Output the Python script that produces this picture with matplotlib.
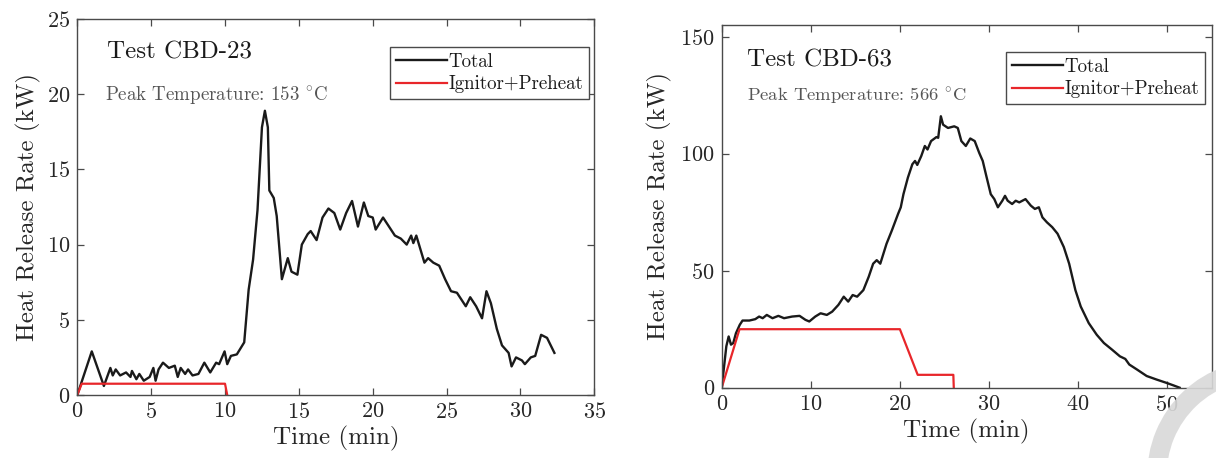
import matplotlib
matplotlib.use("Agg")
import matplotlib.pyplot as plt
from matplotlib.patches import Arc

plt.rcParams['font.family'] = ['cmr10', 'DejaVu Serif']
plt.rcParams['mathtext.fontset'] = 'cm'
plt.rcParams['axes.formatter.use_mathtext'] = True

# ---- Test CBD-23 ----
t23 = [0, 0.98, 1.8, 2.24, 2.4, 2.6, 2.9, 3.3, 3.6, 3.7, 4.0, 4.2, 4.5, 4.9, 5.15, 5.3,
       5.5, 5.8, 6.2, 6.6, 6.8, 7.0, 7.3, 7.5, 7.8, 8.2, 8.6, 9.0, 9.4, 9.6, 9.97, 10.15,
       10.4, 10.8, 11.3, 11.6, 11.9, 12.2, 12.5, 12.7, 12.9, 13.0, 13.3, 13.5, 13.85,
       14.25, 14.5, 14.9, 15.2, 15.6, 15.8, 16.2, 16.6, 17.0, 17.4, 17.8, 18.2, 18.6,
       19.0, 19.4, 19.7, 20.0, 20.2, 20.7, 21.1, 21.5, 21.9, 22.3, 22.6, 22.75, 22.95,
       23.5, 23.75, 24.1, 24.5, 24.9, 25.3, 25.7, 26.3, 26.6, 27.0, 27.4, 27.7, 28.0,
       28.4, 28.75, 29.2, 29.4, 29.7, 30.1, 30.3, 30.7, 31.0, 31.4, 31.8, 32.3]
hrr23 = [0, 2.9, 0.6, 1.8, 1.3, 1.7, 1.3, 1.5, 1.2, 1.6, 1.05, 1.4, 0.95, 1.2, 1.8, 0.95,
         1.7, 2.15, 1.8, 1.95, 1.2, 1.8, 1.4, 1.7, 1.3, 1.4, 2.15, 1.5, 2.15, 2.05, 2.9, 2.05,
         2.6, 2.7, 3.5, 7.0, 9.0, 12.3, 17.8, 18.9, 17.8, 13.6, 13.1, 11.9, 7.7,
         9.1, 8.2, 8.0, 10.0, 10.7, 10.9, 10.3, 11.8, 12.4, 12.1, 11.0, 12.1, 12.9,
         11.2, 12.8, 11.9, 11.8, 11.0, 11.8, 11.2, 10.6, 10.4, 10.0, 10.6, 10.1, 10.6,
         8.8, 9.1, 8.8, 8.6, 7.7, 6.9, 6.8, 5.9, 6.5, 5.9, 5.1, 6.9, 6.1,
         4.4, 3.3, 2.8, 1.9, 2.5, 2.3, 2.05, 2.5, 2.6, 4.0, 3.8, 2.8]
t23_ign = [0, 0.3, 10.0, 10.15]
ign23 = [0, 0.75, 0.75, 0]

# ---- Test CBD-63 ----
t63 = [0, 0.52, 0.78, 1.04, 1.3, 1.6, 2.03, 2.34, 3.1, 3.77, 4.2, 4.6, 5.06, 5.7, 6.36,
       7.0, 7.9, 8.74, 9.4, 9.83, 10.5, 11.1, 11.8, 12.4, 13.1, 13.7, 14.2, 14.7, 15.2,
       15.9, 16.5, 17.0, 17.4, 17.8, 18.5, 19.1, 19.8, 20.1, 20.4, 20.9, 21.4, 21.7,
       21.95, 22.4, 22.8, 23.1, 23.5, 24.1, 24.3, 24.6, 24.85, 25.4, 26.1, 26.5, 26.9,
       27.4, 27.9, 28.4, 28.9, 29.3, 29.7, 30.2, 30.6, 31.0, 31.5, 31.8, 32.1, 32.6,
       33.0, 33.4, 34.1, 34.7, 35.15, 35.6, 36.0, 36.5, 37.1, 37.7, 38.4, 39.0, 39.7,
       40.3, 41.2, 42.1, 42.9, 43.8, 44.7, 45.3, 45.75, 46.6, 47.7, 48.8, 49.9, 50.7, 51.4]
hrr63 = [0, 17.7, 21.9, 18.4, 19.1, 23.3, 26.9, 28.7, 28.7, 29.3, 30.4, 29.7, 31.1, 29.7, 30.7,
         29.7, 30.4, 30.7, 29.0, 28.3, 30.4, 31.8, 31.1, 32.5, 35.4, 38.9, 36.8, 39.6, 38.9,
         41.7, 47.4, 53.0, 54.5, 53.0, 61.5, 67.2, 74.3, 77.1, 82.7, 89.8, 95.5, 96.9,
         95.2, 99.0, 103.3, 101.8, 105.4, 107.1, 106.8, 116.0, 112.4, 111.0, 111.7, 111.0, 105.4,
         103.3, 106.5, 105.4, 100.4, 96.9, 90.5, 82.7, 80.6, 77.1, 79.9, 82.0, 79.9, 78.5,
         79.9, 79.2, 80.6, 77.8, 76.4, 77.1, 72.8, 70.7, 68.6, 65.8, 60.1, 53.0, 41.7,
         34.7, 27.6, 22.6, 19.1, 16.3, 13.4, 12.3, 9.9, 7.8, 5.0, 3.5, 2.1, 1.0, 0]
t63_ign = [0, 2, 20, 22, 26, 26.05]
ign63 = [0, 25, 25, 5.5, 5.5, 0]

W, H = 1216, 458
fig = plt.figure(figsize=(W / 100, H / 100), dpi=100)

def px_axes(l, r, b, t):
    return fig.add_axes([l / W, (H - b) / H, (r - l) / W, (b - t) / H])

ax1 = px_axes(77.3, 594.3, 395, 19)
ax2 = px_axes(721.7, 1211.7, 387.7, 25)

black = '#1a1a1a'
red = '#e8262a'
axcol = '#4a4a4a'

def style(ax):
    for s in ax.spines.values():
        s.set_color(axcol)
        s.set_linewidth(1.0)
    ax.tick_params(direction='in', top=True, right=True, length=5, width=0.9,
                   colors=axcol, labelcolor='#262626', labelsize=16, pad=5)

ax1.plot(t23, hrr23, color=black, lw=1.7, label='Total')
ax1.plot(t23_ign, ign23, color=red, lw=1.6, label='Ignitor+Preheat')
ax1.set_xlim(0, 35)
ax1.set_ylim(0, 25)
ax1.set_xticks([0, 5, 10, 15, 20, 25, 30, 35])
ax1.set_yticks([0, 5, 10, 15, 20, 25])
style(ax1)
ax1.set_xlabel('Time (min)', fontsize=18, color='#262626', labelpad=3)
ax1.set_ylabel('Heat Release Rate (kW)', fontsize=18, color='#262626', labelpad=4)
ax1.text(0.057, 0.912, 'Test CBD-23', transform=ax1.transAxes, fontsize=18,
         ha='left', va='center', color='#1a1a1a')
ax1.text(0.054, 0.798, r'Peak Temperature: 153 $^{\circ}$C', transform=ax1.transAxes,
         fontsize=13.6, ha='left', va='center', color='#555555')

ax2.plot(t63, hrr63, color=black, lw=1.7, label='Total')
ax2.plot(t63_ign, ign63, color=red, lw=1.6, label='Ignitor+Preheat')
ax2.set_xlim(0, 55)
ax2.set_ylim(0, 155)
ax2.set_xticks([0, 10, 20, 30, 40, 50])
ax2.set_yticks([0, 50, 100, 150])
style(ax2)
ax2.set_xlabel('Time (min)', fontsize=18, color='#262626', labelpad=3)
ax2.set_ylabel('Heat Release Rate (kW)', fontsize=18, color='#262626', labelpad=6)
ax2.text(0.052, 0.9035, 'Test CBD-63', transform=ax2.transAxes, fontsize=18,
         ha='left', va='center', color='#1a1a1a')
ax2.text(0.052, 0.803, r'Peak Temperature: 566 $^{\circ}$C', transform=ax2.transAxes,
         fontsize=13.4, ha='left', va='center', color='#555555')

for ax, anchor in ((ax1, (0.990, 0.9255)), (ax2, (0.986, 0.9256))):
    leg = ax.legend(loc='upper right', bbox_to_anchor=anchor, fontsize=13.6,
                    handlelength=2.7, handletextpad=0.1, labelspacing=0.25,
                    borderpad=0.3, borderaxespad=0, fancybox=False, framealpha=1)
    leg.get_frame().set_edgecolor(axcol)
    leg.get_frame().set_linewidth(1.0)
    for txt in leg.get_texts():
        txt.set_color('#1a1a1a')

# faint watermark arc at lower right
arc = Arc((1262 / W, (H - 475) / H), 210 / W, 210 / H, theta1=88, theta2=185,
          transform=fig.transFigure, color='#d9d9d9', lw=14, alpha=0.9, zorder=10)
fig.add_artist(arc)

fig.savefig('out.png', dpi=100)
